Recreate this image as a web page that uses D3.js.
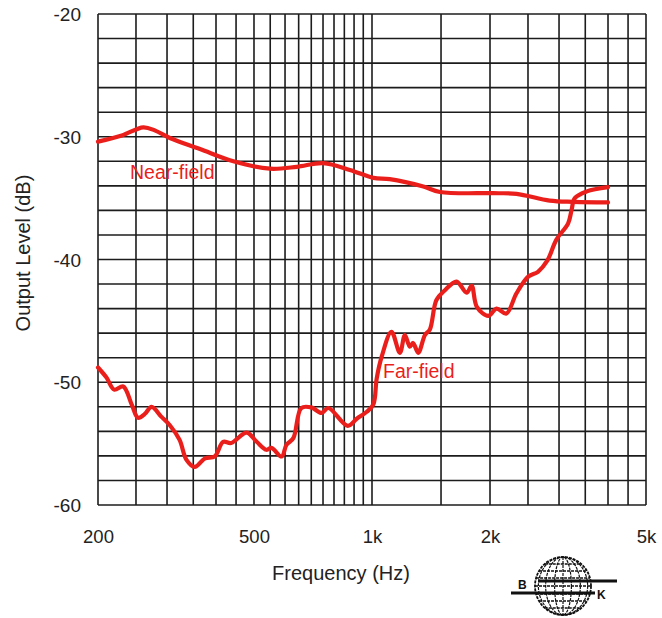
<!DOCTYPE html>
<html>
<head>
<meta charset="utf-8">
<script src="https://cdn.jsdelivr.net/npm/d3@7"></script>
<style>
  body { margin: 0; background: #fff; }
  svg { display: block; font-family: "Liberation Sans", Arial, sans-serif; }
</style>
</head>
<body>
<div id="chart"></div>
<script>
// frequency response data
const nearFreq = [200, 230, 261, 280, 305, 364, 443, 549, 643, 751, 878, 1008, 1110, 1352, 1490, 2039, 2337, 2840, 3265, 4000];
const nearDb = [-30.4, -29.9, -29.23, -29.5, -30.1, -31.0, -32.0, -32.6, -32.45, -32.15, -32.7, -33.35, -33.45, -34.05, -34.5, -34.6, -34.65, -35.2, -35.3, -35.35];

const farFreq = [200, 210, 220, 232, 244, 253, 263, 274, 290, 305, 323, 336, 353, 375, 397, 417, 437, 479, 508, 538, 554, 588, 605, 630, 660, 700, 743, 774, 867, 916, 970, 1008, 1028, 1059, 1121, 1178, 1213, 1249, 1273, 1312, 1365, 1405, 1460, 1535, 1643, 1743, 1796, 1851, 1980, 2078, 2201, 2337, 2503, 2651, 2800, 2952, 3165, 3228, 3292, 3531, 4000];
const farDb = [-48.8, -49.6, -50.6, -50.35, -51.85, -52.9, -52.6, -52.0, -52.8, -53.5, -54.7, -56.3, -56.9, -56.2, -56.05, -54.85, -54.95, -54.1, -54.85, -55.5, -55.35, -56.05, -55.1, -54.55, -52.1, -52.05, -52.5, -52.1, -53.55, -52.95, -52.4, -51.8, -49.7, -47.9, -45.9, -47.6, -46.15, -47.1, -46.8, -47.6, -46.15, -45.7, -43.3, -42.5, -41.8, -42.7, -42.15, -43.85, -44.6, -44.0, -44.4, -42.75, -41.4, -41.0, -40.1, -38.4, -37.05, -36.0, -35.0, -34.45, -34.1];

const xGridValues = [200, 250, 300, 350, 400, 450, 500, 550, 600, 650, 700, 750, 800, 850, 900, 950, 1000, 1500, 2000, 2500, 3000, 3500, 4000, 4500, 5000];
const xTickValues = [200, 500, 1000, 2000, 5000];
const xTickLabels = ['200', '500', '1k', '2k', '5k'];
const yGridValues = [-60, -58, -56, -54, -52, -50, -48, -46, -44, -42, -40, -38, -36, -34, -32, -30, -28, -26, -24, -22, -20];
const yTickValues = [-60, -50, -40, -30, -20];

const width = 662, height = 618;
const red = '#ea1f1c';

const svg = d3.select('#chart').append('svg')
  .attr('width', width)
  .attr('height', height);

const x = d3.scaleLog().domain([200, 5000]).range([98, 646]);
const y = d3.scaleLinear().domain([-60, -20]).range([505, 14]);

// grid
const grid = svg.append('g').attr('stroke', '#1c1c1c').attr('stroke-width', 1.6);
grid.selectAll('line.v')
  .data(xGridValues)
  .enter().append('line')
  .attr('class', 'v')
  .attr('x1', d => x(d)).attr('x2', d => x(d))
  .attr('y1', y(-20)).attr('y2', y(-60));
grid.selectAll('line.h')
  .data(yGridValues)
  .enter().append('line')
  .attr('class', 'h')
  .attr('x1', x(200)).attr('x2', x(5000))
  .attr('y1', d => y(d)).attr('y2', d => y(d));

// axes (labels only)
const xAxis = d3.axisBottom(x)
  .tickValues(xTickValues)
  .tickFormat((d, i) => xTickLabels[i])
  .tickSize(0).tickPadding(0);
const gx = svg.append('g')
  .attr('transform', `translate(0, ${y(-60)})`)
  .call(xAxis);
gx.select('.domain').remove();
gx.selectAll('text')
  .attr('y', 38).attr('dy', 0)
  .style('font-size', '18.5px').attr('fill', '#222');

const yAxis = d3.axisLeft(y)
  .tickValues(yTickValues)
  .tickFormat(d => d)
  .tickSize(0).tickPadding(0);
const gy = svg.append('g')
  .attr('transform', `translate(${x(200)}, 0)`)
  .call(yAxis);
gy.select('.domain').remove();
gy.selectAll('text')
  .attr('x', -17).attr('dy', '0.35em')
  .style('font-size', '19px').attr('fill', '#222');

// axis titles
svg.append('text')
  .attr('x', 341).attr('y', 580)
  .attr('text-anchor', 'middle')
  .style('font-size', '20px').attr('fill', '#222')
  .text('Frequency (Hz)');
svg.append('text')
  .attr('transform', 'rotate(-90)')
  .attr('x', -253).attr('y', 30)
  .attr('text-anchor', 'middle')
  .style('font-size', '20px').attr('fill', '#222')
  .text('Output Level (dB)');

// curves
const line = d3.line()
  .x(d => x(d[0]))
  .y(d => y(d[1]))
  .curve(d3.curveCatmullRom.alpha(0.5));

svg.append('path')
  .datum(d3.zip(nearFreq, nearDb))
  .attr('fill', 'none').attr('stroke', red).attr('stroke-width', 4.2)
  .attr('stroke-linejoin', 'round').attr('stroke-linecap', 'round')
  .attr('d', line);
svg.append('path')
  .datum(d3.zip(farFreq, farDb))
  .attr('fill', 'none').attr('stroke', red).attr('stroke-width', 4.2)
  .attr('stroke-linejoin', 'round').attr('stroke-linecap', 'round')
  .attr('d', line);

svg.append('text')
  .attr('x', 130).attr('y', 179)
  .style('font-size', '19.5px').attr('fill', red)
  .text('Near-field');
svg.append('text')
  .attr('x', 383).attr('y', 378)
  .style('font-size', '19.5px').attr('fill', red)
  .text('Far-field');

// B&K logo
const logo = svg.append('g').attr('transform', 'translate(563, 586)');
logo.append('ellipse')
  .attr('rx', 28).attr('ry', 29)
  .attr('fill', 'none').attr('stroke', '#111').attr('stroke-width', 1.8)
  .attr('stroke-dasharray', '3,1');
[0.3, 0.62, 0.88].forEach(k => {
  logo.append('ellipse')
    .attr('rx', 28 * k).attr('ry', 29)
    .attr('fill', 'none').attr('stroke', '#111').attr('stroke-width', 1.2)
    .attr('stroke-dasharray', '3,1');
});
logo.append('line').attr('x1', 0).attr('x2', 0).attr('y1', -29).attr('y2', 29)
  .attr('stroke', '#111').attr('stroke-width', 1.2).attr('stroke-dasharray', '3,1');
[-22, -15, -8, 0, 8, 15, 22].forEach(dy => {
  const hw = 28 * Math.sqrt(1 - (dy / 29) * (dy / 29));
  logo.append('line')
    .attr('x1', -hw).attr('x2', hw).attr('y1', dy).attr('y2', dy)
    .attr('stroke', '#111').attr('stroke-width', 1.3).attr('stroke-dasharray', '3,1');
});
logo.append('line').attr('x1', -25).attr('x2', 54).attr('y1', -5).attr('y2', -5)
  .attr('stroke', '#111').attr('stroke-width', 3);
logo.append('line').attr('x1', -52).attr('x2', 32).attr('y1', 7).attr('y2', 7)
  .attr('stroke', '#111').attr('stroke-width', 3);
logo.append('text').attr('x', -45).attr('y', 3)
  .style('font-size', '12px').style('font-weight', 'bold').attr('fill', '#111').text('B');
logo.append('text').attr('x', 34).attr('y', 13)
  .style('font-size', '12px').style('font-weight', 'bold').attr('fill', '#111').text('K');
</script>
</body>
</html>
